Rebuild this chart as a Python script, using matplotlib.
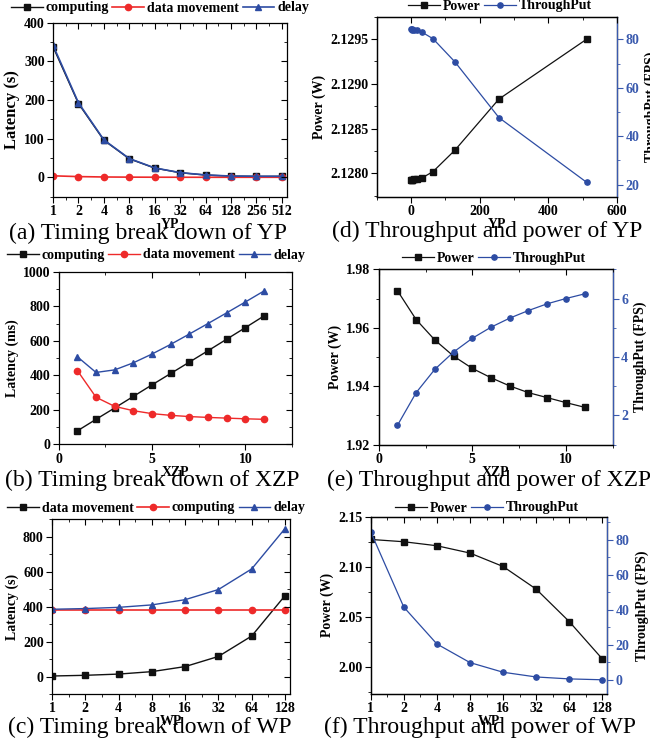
import matplotlib
matplotlib.use('Agg')
import numpy as np
import matplotlib.pyplot as plt
from matplotlib.ticker import AutoMinorLocator, FixedLocator, FormatStrFormatter, NullFormatter

plt.rcParams['font.family'] = ['Liberation Serif', 'DejaVu Serif']
plt.rcParams['font.weight'] = 'bold'
plt.rcParams['axes.labelweight'] = 'bold'
plt.rcParams['font.size'] = 10
plt.rcParams['axes.linewidth'] = 0.9

# ---- data ----
YP = [1, 2, 4, 8, 16, 32, 64, 128, 256, 512]
yp_computing = [338, 191, 96, 48, 24, 12, 6, 3.2, 2.6, 2.6]
yp_data_move = [4, 2, 1, 0.6, 0.4, 0.3, 0.2, 0.2, 0.2, 0.2]
yp_delay = [342, 193, 97, 48.6, 24.4, 12.3, 6.2, 3.4, 2.8, 2.8]
yp_power = [2.12793, 2.12793, 2.12793, 2.12794, 2.12794, 2.12795, 2.12802, 2.12826, 2.12883, 2.12950]
yp_tput = [84.2, 84.2, 84.1, 84.0, 83.8, 83.0, 80.3, 70.7, 47.7, 20.9]

XZP = [1, 2, 3, 4, 5, 6, 7, 8, 9, 10, 11]
xzp_computing = [78, 145, 211, 278, 345, 411, 477, 543, 610, 677, 745]
xzp_data_move = [428, 273, 220, 195, 178, 168, 161, 156, 152, 148, 145]
xzp_delay = [508, 417, 432, 473, 524, 580, 640, 701, 763, 826, 890]
xzp_power = [1.9727, 1.9628, 1.9558, 1.9503, 1.9461, 1.9429, 1.9401, 1.9378, 1.9361, 1.9344, 1.9328]
xzp_tput = [1.66, 2.78, 3.58, 4.17, 4.64, 5.02, 5.33, 5.59, 5.82, 6.00, 6.16]

WP = [1, 2, 4, 8, 16, 32, 64, 128]
wp_data_move = [3, 7, 14, 28, 57, 115, 232, 463]
wp_computing = [381, 381, 381, 381, 381, 381, 381, 381]
wp_delay = [385, 389, 396, 410, 440, 498, 616, 847]
wp_power = [2.1273, 2.1250, 2.1210, 2.1137, 2.1003, 2.0777, 2.0453, 2.0080]
wp_tput = [84.4, 41.5, 20.5, 9.9, 4.4, 1.7, 0.6, 0.1]

BLACK = '#111111'
RED = '#ee2a2a'
BLUE = '#2d4ca3'
TBLUE = '#3a5aae'

W, H = 650, 747
fig = plt.figure(figsize=(6.5, 7.47), dpi=100)


def rect(l, t, r, b):
    return [l / W, 1 - b / H, (r - l) / W, (b - t) / H]


def base_ticks(ax):
    ax.tick_params(which='major', direction='out', length=4, width=0.8, pad=2, labelsize=10)
    ax.tick_params(which='minor', direction='out', length=2.5, width=0.6)


def overlay(ax, right_in=True):
    # top (and right) ticks pointing inward, like the original Origin plots
    ov = fig.add_axes(ax.get_position(), sharex=ax, sharey=ax if right_in else None)
    ov.set_frame_on(False)
    ov.tick_params(which='both', direction='in', bottom=False, left=False, top=True,
                   right=right_in, labelbottom=False, labelleft=False,
                   labeltop=False, labelright=False)
    ov.tick_params(which='major', length=4, width=0.8)
    ov.tick_params(which='minor', length=2.5, width=0.6)
    return ov


def log2_x(ax, xs, right):
    ax.set_xscale('log', base=2)
    ax.set_xlim(1, 2 ** right)
    ax.set_xticks(xs, labels=[str(v) for v in xs])
    mids = np.sqrt(np.array(xs[:-1], float) * np.array(xs[1:], float))
    ax.xaxis.set_minor_locator(FixedLocator(mids))
    ax.xaxis.set_minor_formatter(NullFormatter())


def fig_legend(handles, labels, cx, cy, ncol):
    fig.legend(handles, labels, loc='center', bbox_to_anchor=(cx / W, 1 - cy / H),
               ncol=ncol, frameon=False, handlelength=2.3, handletextpad=0.2,
               columnspacing=0.25, borderaxespad=0, borderpad=0,
               prop={'weight': 'bold', 'size': 10})


def caption(text, cx, cy):
    fig.text(cx / W, 1 - cy / H, text, ha='center', va='center', fontsize=17,
             fontweight='normal', family=['Liberation Serif', 'DejaVu Serif'])


def twin_style(tw):
    tw.spines['right'].set_color(TBLUE)
    tw.tick_params(axis='y', which='major', direction='out', length=4, width=0.8, pad=2,
                   labelsize=10, colors=TBLUE)
    tw.tick_params(axis='y', which='minor', direction='out', length=2.5, width=0.6, colors=TBLUE)
    tw.yaxis.set_minor_locator(AutoMinorLocator(2))


# ---------------- (a) ----------------
ax = fig.add_axes(rect(53, 22.7, 287, 196.7))
l1, = ax.plot(YP, yp_computing, '-s', color=BLACK, lw=1, ms=4.5)
l2, = ax.plot(YP, yp_data_move, '-o', color=RED, lw=1.2, ms=4.5)
l3, = ax.plot(YP, yp_delay, '-^', color=BLUE, lw=1.2, ms=5)
log2_x(ax, YP, 9.2)
ax.set_ylim(-50, 400)
ax.set_yticks([0, 100, 200, 300, 400])
ax.yaxis.set_minor_locator(AutoMinorLocator(2))
base_ticks(ax)
ax.set_ylabel('Latency (s)', fontsize=12, labelpad=3)
ax.set_xlabel('YP', labelpad=0)
overlay(ax)
fig_legend([l1, l2, l3], ['computing', 'data movement', 'delay'], 160, 8, 3)
caption('(a) Timing break down of YP', 148, 233)

# ---------------- (d) ----------------
ax = fig.add_axes(rect(376.7, 16.7, 617, 196.7))
tw = ax.twinx()
p1, = ax.plot(YP, yp_power, '-s', color=BLACK, lw=0.9, ms=4.5)
p2, = tw.plot(YP, yp_tput, '-o', color=BLUE, lw=0.9, ms=3.8)
ax.set_xlim(-100, 600)
ax.set_xticks([0, 200, 400, 600])
ax.xaxis.set_minor_locator(AutoMinorLocator(2))
ax.set_ylim(2.12774, 2.12975)
ax.set_yticks([2.1280, 2.1285, 2.1290, 2.1295])
ax.yaxis.set_major_formatter(FormatStrFormatter('%.4f'))
ax.yaxis.set_minor_locator(AutoMinorLocator(2))
tw.set_ylim(15, 89.4)
tw.set_yticks([20, 40, 60, 80])
base_ticks(ax)
twin_style(tw)
ax.set_ylabel('Power (W)', labelpad=3)
tw.set_ylabel('ThroughPut (FPS)', labelpad=4)
ax.set_xlabel('YP', labelpad=0)
overlay(ax, right_in=False)
fig_legend([p1, p2], ['Power', 'ThroughPut'], 500, 6, 2)
caption('(d) Throughput and power of YP', 487, 231)

# ---------------- (b) ----------------
ax = fig.add_axes(rect(58.7, 272, 292, 444.3))
l1, = ax.plot(XZP, xzp_computing, '-s', color=BLACK, lw=1, ms=4.5)
l2, = ax.plot(XZP, xzp_data_move, '-o', color=RED, lw=1, ms=4.5)
l3, = ax.plot(XZP, xzp_delay, '-^', color=BLUE, lw=1, ms=5)
ax.set_xlim(0, 12.5)
ax.set_xticks([0, 5, 10])
ax.xaxis.set_minor_locator(AutoMinorLocator(2))
ax.set_ylim(0, 1000)
ax.set_yticks([0, 200, 400, 600, 800, 1000])
ax.yaxis.set_minor_locator(AutoMinorLocator(2))
base_ticks(ax)
ax.set_ylabel('Latency (ms)', labelpad=3)
ax.set_xlabel('XZP', labelpad=0)
overlay(ax)
fig_legend([l1, l2, l3], ['computing', 'data movement', 'delay'], 156, 255, 3)
caption('(b) Timing break down of XZP', 152, 480)

# ---------------- (e) ----------------
ax = fig.add_axes(rect(378.7, 269.3, 612.7, 444.7))
tw = ax.twinx()
p1, = ax.plot(XZP, xzp_power, '-s', color=BLACK, lw=0.9, ms=4.5)
p2, = tw.plot(XZP, xzp_tput, '-o', color=BLUE, lw=0.9, ms=3.8)
ax.set_xlim(0, 12.5)
ax.set_xticks([0, 5, 10])
ax.xaxis.set_minor_locator(AutoMinorLocator(2))
ax.set_ylim(1.92, 1.98)
ax.set_yticks([1.92, 1.94, 1.96, 1.98])
ax.yaxis.set_major_formatter(FormatStrFormatter('%.2f'))
ax.yaxis.set_minor_locator(AutoMinorLocator(2))
tw.set_ylim(1, 7)
tw.set_yticks([2, 4, 6])
base_ticks(ax)
twin_style(tw)
ax.set_ylabel('Power (W)', labelpad=3)
tw.set_ylabel('ThroughPut (FPS)', labelpad=4)
ax.set_xlabel('XZP', labelpad=0)
overlay(ax, right_in=False)
fig_legend([p1, p2], ['Power', 'ThroughPut'], 494, 258, 2)
caption('(e) Throughput and power of XZP', 489, 480)

# ---------------- (c) ----------------
ax = fig.add_axes(rect(52, 519.3, 290, 694))
l1, = ax.plot(WP, wp_data_move, '-s', color=BLACK, lw=1, ms=4.5)
l2, = ax.plot(WP, wp_computing, '-o', color=RED, lw=1.2, ms=4.5)
l3, = ax.plot(WP, wp_delay, '-^', color=BLUE, lw=1, ms=5)
log2_x(ax, WP, 7.15)
ax.set_ylim(-100, 900)
ax.set_yticks([0, 200, 400, 600, 800])
ax.yaxis.set_minor_locator(AutoMinorLocator(2))
base_ticks(ax)
ax.set_ylabel('Latency (s)', labelpad=3)
ax.set_xlabel('WP', labelpad=0)
overlay(ax)
fig_legend([l1, l2, l3], ['data movement', 'computing', 'delay'], 156, 508, 3)
caption('(c) Timing break down of WP', 150, 727)

# ---------------- (f) ----------------
ax = fig.add_axes(rect(370.7, 516.7, 607.3, 694))
tw = ax.twinx()
p1, = ax.plot(WP, wp_power, '-s', color=BLACK, lw=0.9, ms=4.5)
p2, = tw.plot(WP, wp_tput, '-o', color=BLUE, lw=0.9, ms=3.8)
log2_x(ax, WP, 7.15)
ax.set_ylim(1.973, 2.15)
ax.set_yticks([2.00, 2.05, 2.10, 2.15])
ax.yaxis.set_major_formatter(FormatStrFormatter('%.2f'))
ax.yaxis.set_minor_locator(AutoMinorLocator(2))
tw.set_ylim(-8, 93)
tw.set_yticks([0, 20, 40, 60, 80])
base_ticks(ax)
twin_style(tw)
ax.set_ylabel('Power (W)', labelpad=3)
tw.set_ylabel('ThroughPut (FPS)', labelpad=4)
ax.set_xlabel('WP', labelpad=0)
overlay(ax, right_in=False)
fig_legend([p1, p2], ['Power', 'ThroughPut'], 487, 508, 2)
caption('(f) Throughput and power of WP', 480, 727)

fig.savefig('out.png', dpi=100)
